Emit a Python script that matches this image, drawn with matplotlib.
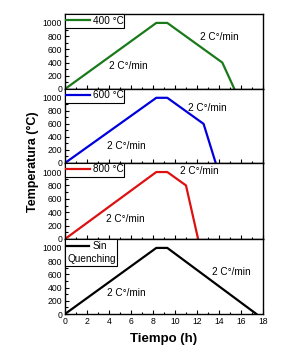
import matplotlib
matplotlib.use("Agg")
import matplotlib.pyplot as plt
from matplotlib.ticker import MultipleLocator
from matplotlib.patches import Rectangle
from matplotlib.lines import Line2D

plt.rcParams['font.family'] = ['Liberation Sans', 'DejaVu Sans']

labels = ["400 °C", "600 °C", "800 °C", "Sin Quenching"]
colors = ["#1a7a1a", "#0000dd", "#dd1111", "#000000"]
times = [
    [0, 8.3, 9.3, 14.3, 15.4],
    [0, 8.3, 9.3, 12.6, 13.7],
    [0, 8.3, 9.3, 11.0, 12.1],
    [0, 8.3, 9.3, 17.4],
]
temps = [
    [0, 1000, 1000, 400, 0],
    [0, 1000, 1000, 600, 0],
    [0, 1000, 1000, 800, 0],
    [0, 1000, 1000, 0],
]
rate_text = "2 C°/min"
text_up = [(12.3, 790), (11.2, 850), (10.5, 1015), (13.4, 640)]
text_low = [(4.0, 350), (3.8, 260), (3.7, 300), (3.8, 320)]

fig = plt.figure(figsize=(2.94, 3.46), dpi=100)
W, H = 294, 346
left, right = 65, 263
tops = [14, 89, 163, 239]
bots = [89, 163, 239, 314]
FS = 7.2
axes = []
for i in range(4):
    ax = fig.add_axes([left / W, 1 - bots[i] / H, (right - left) / W, (bots[i] - tops[i]) / H])
    ax.plot(times[i], temps[i], color=colors[i], lw=1.6, label=labels[i])
    ax.set_xlim(0, 18)
    ax.set_ylim(0, 1135)
    ax.xaxis.set_major_locator(MultipleLocator(2))
    ax.xaxis.set_minor_locator(MultipleLocator(1))
    ax.yaxis.set_major_locator(MultipleLocator(200))
    ax.yaxis.set_minor_locator(MultipleLocator(100))
    ax.tick_params(which='both', direction='in', labelsize=6.2, width=0.8)
    ax.tick_params(which='major', length=3)
    ax.tick_params(which='minor', length=1.8)
    ax.tick_params(axis='y', pad=2)
    for s in ax.spines.values():
        s.set_linewidth(1.0)
    if i < 3:
        ax.tick_params(axis='x', labelbottom=False)
    else:
        ax.tick_params(axis='x', pad=2)
    ax.text(*text_up[i], rate_text, fontsize=FS, ha='left', va='center')
    ax.text(*text_low[i], rate_text, fontsize=FS, ha='left', va='center')
    pw = right - left
    ph = bots[i] - tops[i]
    if i < 3:
        ax.add_patch(Rectangle((0, 1 - 14 / ph), 59 / pw, 14 / ph, transform=ax.transAxes,
                               fill=True, facecolor='white', edgecolor='black', lw=0.8,
                               clip_on=False, zorder=5))
        ax.add_line(Line2D([0, 25 / pw], [1 - 6 / ph, 1 - 6 / ph], transform=ax.transAxes,
                           color=colors[i], lw=1.6, zorder=6))
        ax.text(28 / pw, 1 - 6.5 / ph, labels[i], transform=ax.transAxes, fontsize=FS,
                ha='left', va='center', zorder=7)
    else:
        ax.add_patch(Rectangle((0, 1 - 27 / ph), 52 / pw, 27 / ph, transform=ax.transAxes,
                               fill=True, facecolor='white', edgecolor='black', lw=0.8,
                               clip_on=False, zorder=5))
        ax.add_line(Line2D([0, 24 / pw], [1 - 7 / ph, 1 - 7 / ph], transform=ax.transAxes,
                           color=colors[i], lw=1.6, zorder=6))
        w1, w2 = labels[i].split(" ")
        ax.text(28 / pw, 1 - 7 / ph, w1, transform=ax.transAxes, fontsize=FS,
                ha='left', va='center', zorder=7)
        ax.text(2 / pw, 1 - 20.5 / ph, w2, transform=ax.transAxes, fontsize=FS,
                ha='left', va='center', zorder=7)
    axes.append(ax)

fig.text(33 / W, 1 - 162 / H, "Temperatura (°C)", rotation=90, ha='center', va='center',
         fontsize=9, fontweight='bold')
fig.text((left + right) / 2 / W, 1 - 339 / H, "Tiempo (h)", ha='center', va='center',
         fontsize=9.5, fontweight='bold')

fig.savefig("out.png", dpi=100)
